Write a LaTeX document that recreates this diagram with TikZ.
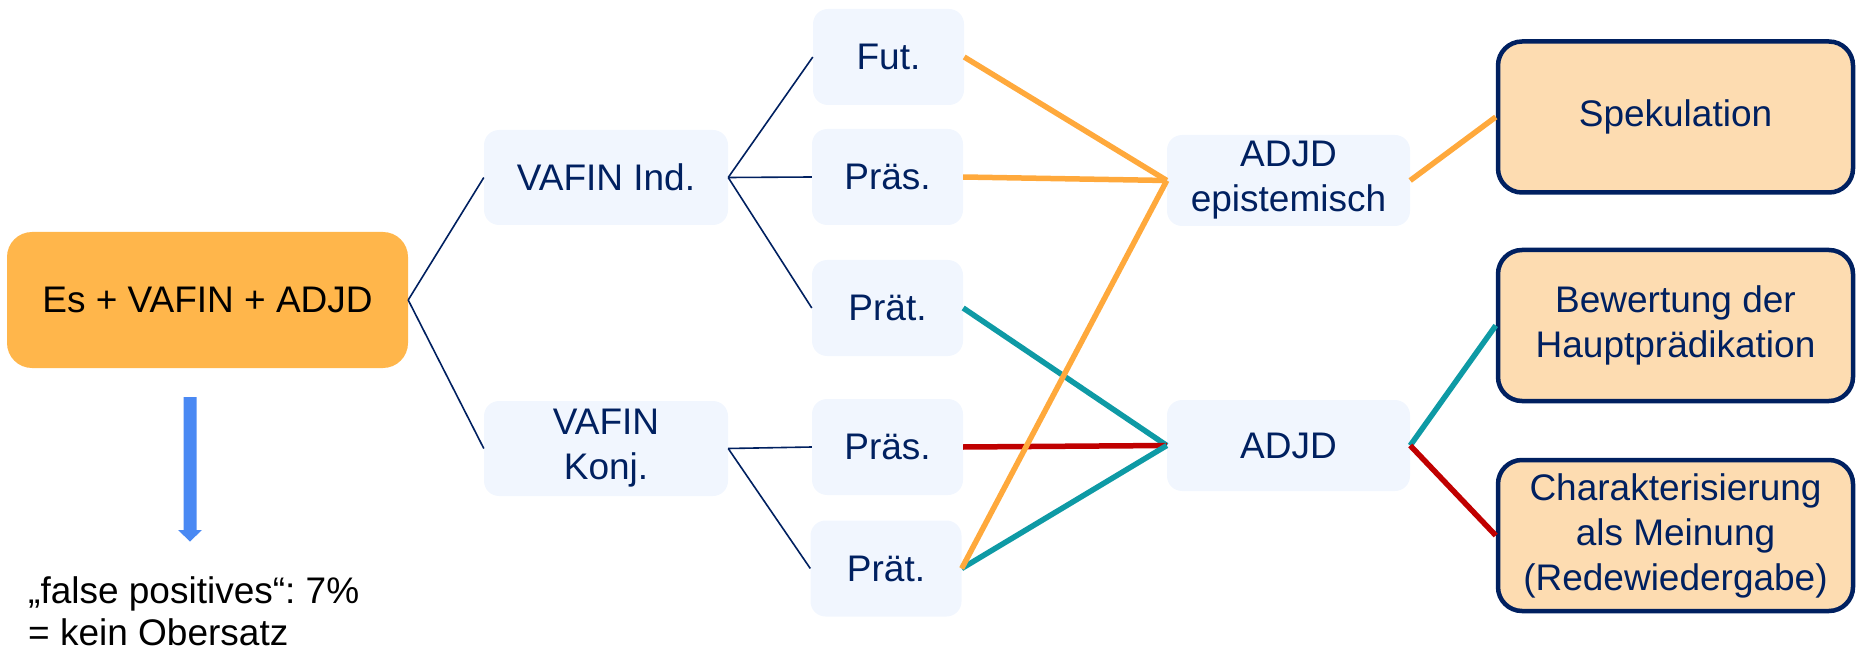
\documentclass[tikz,border=0pt]{standalone}
\usepackage{fontspec}
\setmainfont{Liberation Sans}
\frenchspacing
\definecolor{navy}{HTML}{002060}
\definecolor{esorange}{HTML}{FFB64B}
\definecolor{lightbox}{HTML}{F1F6FE}
\definecolor{peach}{HTML}{FDDCB1}
\definecolor{lorange}{HTML}{FFA93C}
\definecolor{lteal}{HTML}{0E9AA5}
\definecolor{lred}{HTML}{C00000}
\definecolor{arrowblue}{HTML}{4A89F3}
\begin{document}
\begin{tikzpicture}[x=1pt,y=-1pt,
  every node/.style={font=\fontsize{37}{45}\selectfont, align=center, inner sep=0pt},
  lbox/.style={fill=lightbox, rounded corners=15pt, text=navy},
  pbox/.style={fill=peach, draw=navy, line width=4.5pt, rounded corners=24pt, text=navy, minimum width=355pt, minimum height=151pt},
  small/.style={lbox, minimum width=151pt, minimum height=96pt},
  mid/.style={lbox, minimum width=244pt, minimum height=95pt},
  adj/.style={lbox, minimum width=243pt, minimum height=91pt},
  tree/.style={draw=navy, line width=1.6pt},
  col/.style={line width=5.5pt},
]
\useasboundingbox (0,0) rectangle (1856,647);

\node[fill=esorange, rounded corners=25pt, minimum width=401pt, minimum height=136pt] (es) at (207.5,300) {Es + VAFIN + ADJD};

\node[mid] (vind) at (606,177.5) {VAFIN Ind.};
\node[mid] (vkonj) at (606,448.5) {VAFIN\\Konj.};

\node[small] (fut) at (888.5,57) {Fut.};
\node[small] (pras1) at (887.5,177) {Präs.};
\node[small] (prat1) at (887.5,308) {Prät.};
\node[small] (pras2) at (887.5,447) {Präs.};
\node[small] (prat2) at (886,568.5) {Prät.};

\node[adj] (epi) at (1288.5,180.5) {ADJD\\epistemisch};
\node[adj] (adjd) at (1288.5,445.5) {ADJD};

\node[pbox] (spek) at (1675.5,117) {Spekulation};
\node[pbox] (bew) at (1675.5,325.5) {Bewertung der\\Hauptprädikation};
\node[pbox] (char) at (1675.5,535.5) {Charakterisierung\\als Meinung\\(Redewiedergabe)};

\node[anchor=north west, align=left, font=\fontsize{37}{42}\selectfont] (fp) at (28,576) {„false positives“: 7\%\\= kein Obersatz};

% blue arrow
\fill[arrowblue] (183.5,397) -- (196.5,397) -- (196.5,530) -- (202,530) -- (190,541.5) -- (178,530) -- (183.5,530) -- cycle;

% tree lines
\draw[tree] (es.east) -- (vind.west);
\draw[tree] (es.east) -- (vkonj.west);
\draw[tree] (vind.east) -- (fut.west);
\draw[tree] (vind.east) -- (pras1.west);
\draw[tree] (vind.east) -- (prat1.west);
\draw[tree] (vkonj.east) -- (pras2.west);
\draw[tree] (vkonj.east) -- (prat2.west);

% coloured lines
\draw[col, lorange] (fut.east) -- (epi.west);
\draw[col, lorange] (pras1.east) -- (epi.west);
\draw[col, lteal] (prat1.east) -- (adjd.west);
\draw[col, lred] (pras2.east) -- (adjd.west);
\draw[col, lteal] (prat2.east) -- (adjd.west);
\draw[col, lorange] (prat2.east) -- (epi.west);
\draw[col, lorange] (epi.east) -- (spek.west);
\draw[col, lteal] (adjd.east) -- (bew.west);
\draw[col, lred] (adjd.east) -- (char.west);
\end{tikzpicture}
\end{document}
